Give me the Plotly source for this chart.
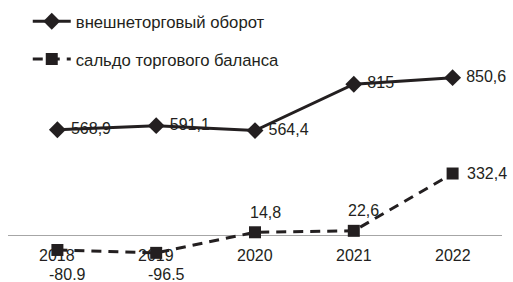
import plotly.graph_objects as go

years = ["2018", "2019", "2020", "2021", "2022"]
turnover = [568.9, 591.1, 564.4, 815.0, 850.6]
turnover_labels = ["568,9", "591,1", "564,4", "815", "850,6"]
balance = [-80.9, -96.5, 14.8, 22.6, 332.4]
balance_labels = ["-80.9", "-96.5", "14,8", "22,6", "332,4"]

INK = "#231f20"
FONT = "Liberation Sans, Arial, sans-serif"
FS = 16

fig = go.Figure()
fig.add_trace(go.Scatter(
    x=years, y=turnover, mode="lines+markers+text",
    name="внешнеторговый оборот", legendgroup="a",
    line=dict(color=INK, width=3),
    marker=dict(symbol="diamond", size=13, color=INK),
    text=turnover_labels, texttemplate=" %{text}", textposition="middle right",
    textfont=dict(family=FONT, size=FS, color=INK),
    cliponaxis=False,
))
fig.add_trace(go.Scatter(
    x=years, y=balance, mode="lines+markers",
    name="сальдо торгового баланса", legendgroup="b",
    line=dict(color=INK, width=3, dash="10px,7px"),
    marker=dict(symbol="square", size=12, color=INK),
    cliponaxis=False,
))

# category labels drawn along the zero line
for i, yr in enumerate(years):
    fig.add_annotation(x=i, y=0, xref="x", yref="y", text=yr, showarrow=False,
                       yshift=-20, font=dict(family=FONT, size=FS, color=INK))

# balance data labels
for i, (v, lab) in enumerate(zip(balance, balance_labels)):
    if v < 0:
        kw = dict(y=0, xanchor="center", yanchor="middle", xshift=10, yshift=-39)
    elif v < 100:
        kw = dict(y=v, xanchor="center", yanchor="middle", xshift=10, yshift=20)
    else:
        kw = dict(y=v, xanchor="left", yanchor="middle", xshift=12, yshift=0)
    fig.add_annotation(x=i, xref="x", yref="y", text=lab, showarrow=False,
                       font=dict(family=FONT, size=FS, color=INK), **kw)

fig.update_layout(
    width=513, height=282,
    margin=dict(l=8, r=11, t=0, b=20),
    paper_bgcolor="white", plot_bgcolor="white",
    font=dict(family=FONT, size=FS, color=INK),
    showlegend=True,
    legend=dict(x=0.04, y=0.985, xanchor="left", yanchor="top",
                bgcolor="rgba(0,0,0,0)", tracegroupgap=13, itemwidth=38,
                font=dict(family=FONT, size=16.7, color=INK)),
    xaxis=dict(type="category", range=[-0.5, 4.5], showticklabels=False,
               showgrid=False, zeroline=False, showline=False, ticks=""),
    yaxis=dict(range=[-145.9, 1270.3], showticklabels=False, showgrid=False,
               zeroline=True, zerolinecolor="#a6a6a6", zerolinewidth=1.3,
               showline=False, ticks=""),
)

fig.write_html("out.html", config={"displayModeBar": False},
               post_script="document.body.style.margin='0';")
